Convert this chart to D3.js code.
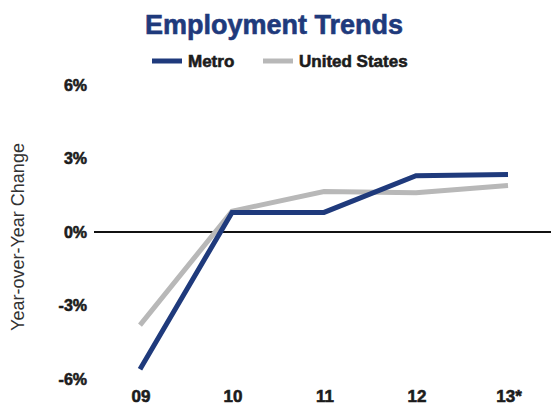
<!DOCTYPE html>
<html>
<head>
<meta charset="utf-8">
<script src="https://cdn.jsdelivr.net/npm/d3@7"></script>
<style>
  body { margin: 0; background: #fff; }
  text { font-family: 'Liberation Sans', Arial, sans-serif; }
  .heavy { font-weight: bold; fill: #1c1c1c; stroke: #1c1c1c; stroke-width: 0.6px; }
</style>
</head>
<body>
<div id="chart"></div>
<script>
let years = ['09', '10', '11', '12', '13*']
let metro = [-5.6, 0.8, 0.8, 2.3, 2.35]
let unitedStates = [-3.8, 0.85, 1.65, 1.6, 1.9]
let yTicks = [-6, -3, 0, 3, 6]

let width = 551
let height = 406

let svg = d3.select('#chart').append('svg')
  .attr('width', width)
  .attr('height', height)

let x = d3.scalePoint().domain(years).range([140, 508])
let y = d3.scaleLinear().domain([-6, 6]).range([379, 85])

// title
svg.append('text')
  .attr('x', 274).attr('y', 34)
  .attr('text-anchor', 'middle')
  .attr('font-size', 27).attr('font-weight', 'bold')
  .attr('fill', '#1f3a7c')
  .attr('stroke', '#1f3a7c').attr('stroke-width', 0.6)
  .text('Employment Trends')

// legend
let legend = [
  { name: 'Metro', color: '#1f3a7c', x: 152 },
  { name: 'United States', color: '#b8b8b8', x: 263 }
]
let lg = svg.selectAll('.legend').data(legend).enter().append('g')
  .attr('transform', (d) => 'translate(' + d.x + ',61)')
lg.append('line')
  .attr('x1', 0).attr('x2', 30)
  .attr('stroke', (d) => d.color)
  .attr('stroke-width', 5)
lg.append('text')
  .attr('class', 'heavy')
  .attr('x', 36).attr('dy', '.35em')
  .attr('font-size', 17)
  .text((d) => d.name)

// y axis labels
svg.selectAll('.ytick').data(yTicks).enter().append('text')
  .attr('class', 'heavy')
  .attr('x', 87).attr('y', (d) => y(d))
  .attr('dy', '.35em')
  .attr('text-anchor', 'end')
  .attr('font-size', 16)
  .text((d) => d + '%')

svg.append('text')
  .attr('transform', 'translate(24,237)rotate(-90)')
  .attr('text-anchor', 'middle')
  .attr('font-size', 18)
  .attr('fill', '#333')
  .text('Year-over-Year Change')

// x labels
svg.selectAll('.xtick').data(years).enter().append('text')
  .attr('class', 'heavy')
  .attr('x', (d) => x(d) + 1).attr('y', 396)
  .attr('dy', '.35em')
  .attr('text-anchor', 'middle')
  .attr('font-size', 17)
  .text((d) => d)

// zero line
svg.append('line')
  .attr('x1', 94).attr('x2', width)
  .attr('y1', y(0)).attr('y2', y(0))
  .attr('stroke', '#111').attr('stroke-width', 2)

let line = d3.line()
  .x((d, i) => x(years[i]))
  .y((d) => y(d))

svg.append('path').datum(unitedStates)
  .attr('d', line)
  .attr('fill', 'none')
  .attr('stroke', '#b8b8b8')
  .attr('stroke-width', 5)

svg.append('path').datum(metro)
  .attr('d', line)
  .attr('fill', 'none')
  .attr('stroke', '#1f3a7c')
  .attr('stroke-width', 5)
</script>
</body>
</html>
